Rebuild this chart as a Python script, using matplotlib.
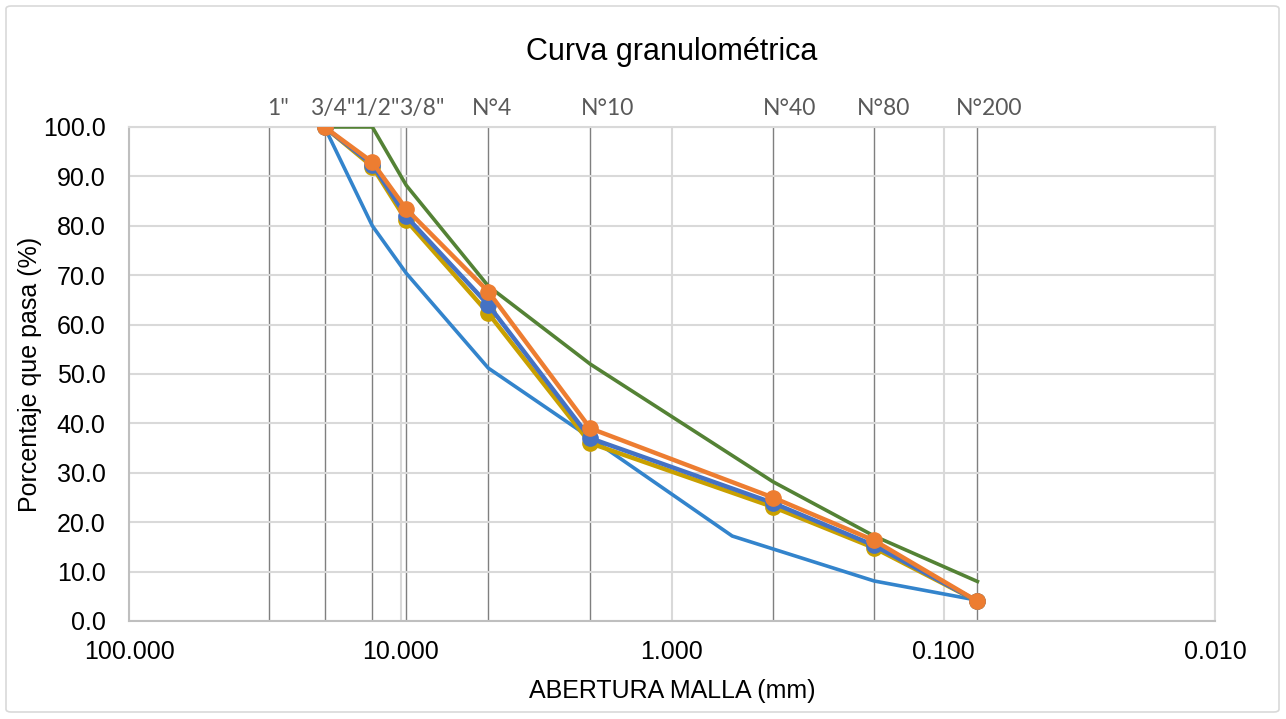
import numpy as np
import matplotlib.pyplot as plt
from matplotlib.patches import FancyBboxPatch
from matplotlib.ticker import FixedLocator, NullLocator
from matplotlib.transforms import offset_copy

plt.rcParams['font.family'] = ['Liberation Sans', 'DejaVu Sans']

# tamices (mm) y etiquetas
tamiz_mm = [30.5, 19.05, 12.7, 9.525, 4.75, 2.0, 0.425, 0.18, 0.075]
tamiz_lbl = ['1"', '3/4"', '1/2"', '3/8"', 'N°4', 'N°10', 'N°40', 'N°80', 'N°200']
lbl_dx = [9, 8, 5, 16, 4, 17, 17, 9, 12]  # desplazamiento de etiquetas (px)

# muestras (3/4" ... N°200)
x_muestra = [19.05, 12.7, 9.525, 4.75, 2.0, 0.425, 0.18, 0.075]
m_oro = [100, 92.0, 81.1, 62.3, 36.0, 23.1, 14.8, 4.0]
m_azul = [100, 92.4, 81.9, 64.0, 37.0, 23.9, 15.3, 4.0]
m_naranja = [100, 92.9, 83.4, 66.7, 39.0, 25.0, 16.3, 4.0]

# limites del huso
x_inf = [19.05, 12.7, 9.525, 4.75, 2.0, 0.6, 0.18, 0.075]
lim_inf = [100, 80, 70.4, 51.2, 37.1, 17.2, 8.1, 4.2]
x_sup = [19.05, 12.7, 9.525, 4.75, 2.0, 0.425, 0.18, 0.075]
lim_sup = [100, 100, 88.2, 67.8, 52.0, 28.2, 17.2, 8.0]

W, H = 1286, 719
fig = plt.figure(figsize=(W / 100, H / 100), dpi=100)
fig.patches.append(FancyBboxPatch((6 / W, 7 / H), 1273 / W, 706 / H,
                                  boxstyle='round,pad=0,rounding_size=0.004',
                                  transform=fig.transFigure, fc='none',
                                  ec='#D9D9D9', lw=1.2, zorder=-1))

ax = fig.add_axes([129 / W, 1 - 621 / H, (1215 - 129) / W, (621 - 127) / H])
ax.set_xscale('log')
ax.set_xlim(100, 0.01)
ax.set_ylim(0, 100)
ax.set_facecolor('none')

ax.xaxis.set_major_locator(FixedLocator([100, 10, 1, 0.1, 0.01]))
ax.xaxis.set_minor_locator(NullLocator())
ax.set_xticklabels(['100.000', '10.000', '1.000', '0.100', '0.010'])
ax.set_yticks(np.arange(0, 101, 10))
ax.set_yticklabels(['%.1f' % v for v in np.arange(0, 101, 10)])
ax.tick_params(length=0, labelsize=18, colors='black')
ax.tick_params(axis='x', pad=14)
ax.tick_params(axis='y', pad=17)
ax.grid(True, color='#D9D9D9', lw=1.5, zorder=0)
for s in ax.spines.values():
    s.set_color('#D9D9D9')
    s.set_linewidth(1.5)
ax.spines['left'].set_color('#BFBFBF')
ax.spines['bottom'].set_color('#BFBFBF')

# lineas de tamices
for xm, lb, dx in zip(tamiz_mm, tamiz_lbl, lbl_dx):
    ax.plot([xm, xm], [0, 100], color='#7F7F7F', lw=1.0, zorder=1)
    tr = offset_copy(ax.transData, fig=fig, x=dx, y=8, units='dots')
    ax.text(xm, 100, lb, transform=tr, ha='center', va='bottom',
            fontsize=16.5, color='#595959', family=['Lato', 'DejaVu Sans'])

ax.plot(x_inf, lim_inf, color='#3384CC', lw=2.6, zorder=3)
ax.plot(x_sup, lim_sup, color='#548235', lw=2.6, zorder=3)
ax.plot(x_muestra, m_oro, color='#C9A000', lw=3.2, marker='o', ms=11, zorder=4)
ax.plot(x_muestra, m_azul, color='#4472C4', lw=3.2, marker='o', ms=11, zorder=5)
ax.plot(x_muestra, m_naranja, color='#ED7D31', lw=3.2, marker='o', ms=11, zorder=6)

fig.text(672 / W, 1 - 52 / H, 'Curva granulométrica', ha='center', va='center',
         fontsize=22)
fig.text(30 / W, 1 - 374 / H, 'Porcentaje que pasa (%)', ha='center',
         va='center', rotation=90, fontsize=18)
fig.text(672 / W, 1 - 691 / H, 'ABERTURA MALLA (mm)', ha='center',
         va='center', fontsize=18)

fig.savefig('out.png', dpi=100)
